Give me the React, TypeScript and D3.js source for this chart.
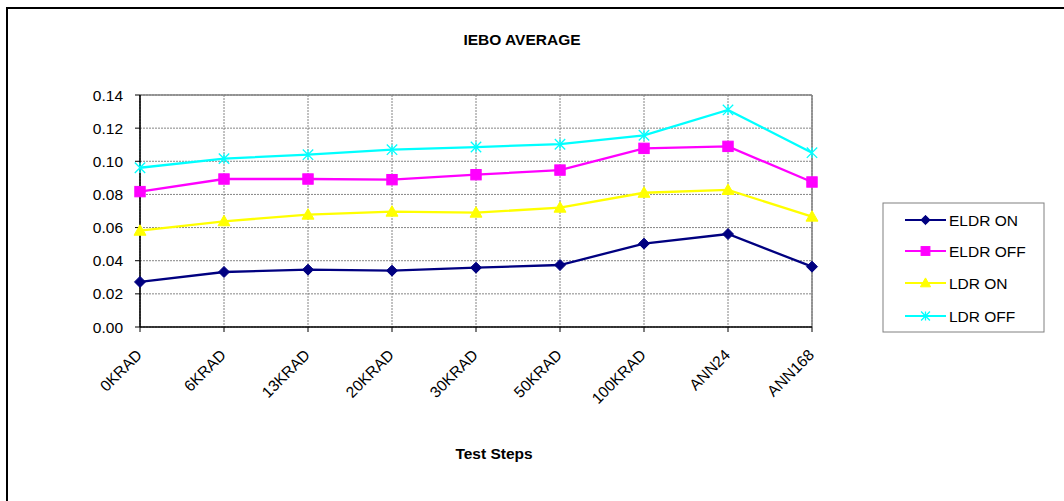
import React from "react";
import * as d3 from "d3";

const categories = ["0KRAD", "6KRAD", "13KRAD", "20KRAD", "30KRAD", "50KRAD", "100KRAD", "ANN24", "ANN168"];
const eldrOn = [0.0272, 0.0332, 0.0346, 0.034, 0.0358, 0.0374, 0.0503, 0.0561, 0.0364];
const eldrOff = [0.0817, 0.0893, 0.0893, 0.0889, 0.0919, 0.0947, 0.1078, 0.109, 0.0875];
const ldrOn = [0.0581, 0.0638, 0.0678, 0.0696, 0.069, 0.072, 0.081, 0.0827, 0.0666];
const ldrOff = [0.0961, 0.1016, 0.104, 0.107, 0.1086, 0.1103, 0.1157, 0.131, 0.1052];
const yTicks = [0, 0.02, 0.04, 0.06, 0.08, 0.1, 0.12, 0.14];
const seriesNames = ["ELDR ON", "ELDR OFF", "LDR ON", "LDR OFF"];
const seriesColors = ["#000080", "#FF00FF", "#FFFF00", "#00FFFF"];
const seriesMarkers = ["diamond", "square", "triangle", "star"];
const seriesValues = [eldrOn, eldrOff, ldrOn, ldrOff];

const W = 1064;
const H = 501;
const plot = { left: 140, right: 812, top: 95, bottom: 327 };
const FONT = "'Liberation Sans', Arial, sans-serif";

function Marker({ type, x, y, color, s = 1 }: { type: string; x: number; y: number; color: string; s?: number }) {
  if (type === "diamond") {
    const r = 5.5 * s;
    return <path d={`M${x},${y - r}L${x + r},${y}L${x},${y + r}L${x - r},${y}Z`} fill={color} stroke={color} strokeWidth={1} />;
  }
  if (type === "square") {
    const r = 5.2 * s;
    return <rect x={x - r} y={y - r} width={2 * r} height={2 * r} fill={color} stroke={color} strokeWidth={1} />;
  }
  if (type === "triangle") {
    const r = 6 * s;
    return <path d={`M${x},${y - r}L${x + r},${y + r * 0.75}L${x - r},${y + r * 0.75}Z`} fill={color} stroke={color} strokeWidth={1} />;
  }
  const r = 5.2 * s;
  return (
    <path
      d={`M${x - r},${y - r}L${x + r},${y + r}M${x - r},${y + r}L${x + r},${y - r}M${x},${y - r}L${x},${y + r}`}
      stroke={color}
      strokeWidth={1.3}
      fill="none"
    />
  );
}

export default function App() {
  const x = d3.scalePoint<string>().domain(categories).range([plot.left, plot.right]).padding(0);
  const y = d3.scaleLinear().domain([0, 0.14]).range([plot.bottom, plot.top]);
  const fmt = d3.format(".2f");
  const line = d3
    .line<number>()
    .x((_, i) => x(categories[i]) as number)
    .y((d) => y(d));

  const legend = { x: 883, y: 203, w: 161, h: 129 };
  const legendRows = [220, 251, 283, 316];

  return (
    <svg
      width={W}
      height={H}
      style={{ position: "absolute", left: 0, top: 0, background: "#fff" }}
      fontFamily={FONT}
    >
      <rect x={0} y={0} width={W} height={H} fill="#fff" />
      <rect x={7} y={8} width={1200} height={700} fill="none" stroke="#000" strokeWidth={2} />

      <text x={522} y={45} textAnchor="middle" fontSize={15.5} fontWeight="bold" fill="#000">
        IEBO AVERAGE
      </text>

      {/* gridlines */}
      {yTicks.map((t) => (
        <line
          key={"gy" + t}
          x1={plot.left}
          x2={plot.right}
          y1={y(t)}
          y2={y(t)}
          stroke="#777"
          strokeWidth={0.9}
          strokeDasharray="2,1"
        />
      ))}
      {categories.map((c) => (
        <line
          key={"gx" + c}
          x1={x(c)}
          x2={x(c)}
          y1={plot.top}
          y2={plot.bottom}
          stroke="#777"
          strokeWidth={0.9}
          strokeDasharray="2,1"
        />
      ))}

      {/* plot border top/right */}
      <line x1={plot.left} x2={plot.right} y1={plot.top} y2={plot.top} stroke="#808080" strokeWidth={1.5} />
      <line x1={plot.right} x2={plot.right} y1={plot.top} y2={plot.bottom} stroke="#808080" strokeWidth={1.5} />

      {/* axes */}
      <line x1={plot.left} x2={plot.left} y1={plot.top} y2={plot.bottom} stroke="#000" strokeWidth={1.6} />
      <line x1={plot.left} x2={plot.right} y1={plot.bottom} y2={plot.bottom} stroke="#000" strokeWidth={1.6} />

      {yTicks.map((t) => (
        <g key={"ty" + t}>
          <line x1={plot.left - 5} x2={plot.left} y1={y(t)} y2={y(t)} stroke="#000" strokeWidth={1} />
          <text x={123} y={y(t)} dy="0.36em" textAnchor="end" fontSize={15.5} fill="#000">
            {fmt(t)}
          </text>
        </g>
      ))}
      {categories.map((c) => (
        <g key={"tx" + c}>
          <line x1={x(c)} x2={x(c)} y1={plot.bottom} y2={plot.bottom + 5} stroke="#000" strokeWidth={1} />
          <text
            transform={`translate(${(x(c) as number) + 3},${plot.bottom + 29}) rotate(-45)`}
            textAnchor="end"
            fontSize={15.5}
            fill="#000"
          >
            {c}
          </text>
        </g>
      ))}

      <text x={494} y={459} textAnchor="middle" fontSize={15.5} fontWeight="bold" fill="#000">
        Test Steps
      </text>

      {/* series */}
      {seriesValues.map((vals, si) => (
        <g key={"s" + si}>
          <path d={line(vals) || ""} fill="none" stroke={seriesColors[si]} strokeWidth={2.3} />
          {vals.map((v, i) => (
            <Marker key={i} type={seriesMarkers[si]} x={x(categories[i]) as number} y={y(v)} color={seriesColors[si]} />
          ))}
        </g>
      ))}

      {/* legend */}
      <rect x={legend.x} y={legend.y} width={legend.w} height={legend.h} fill="#fff" stroke="#808080" strokeWidth={1} />
      {seriesNames.map((n, i) => (
        <g key={"l" + n}>
          <line x1={905} x2={946} y1={legendRows[i]} y2={legendRows[i]} stroke={seriesColors[i]} strokeWidth={2.2} />
          <Marker type={seriesMarkers[i]} x={925.5} y={legendRows[i]} color={seriesColors[i]} s={0.85} />
          <text x={949} y={legendRows[i]} dy="0.36em" fontSize={15.5} fill="#000">
            {n}
          </text>
        </g>
      ))}
    </svg>
  );
}
